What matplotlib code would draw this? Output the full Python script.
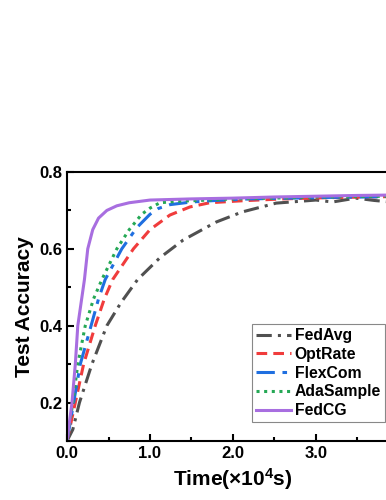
import matplotlib
matplotlib.use("Agg")
import matplotlib.pyplot as plt
from matplotlib.ticker import MultipleLocator

plt.rcParams["font.family"] = ["Liberation Sans", "DejaVu Sans"]
plt.rcParams["font.weight"] = "bold"
plt.rcParams["mathtext.fontset"] = "custom"
plt.rcParams["mathtext.rm"] = "Liberation Sans:bold"
plt.rcParams["mathtext.bf"] = "Liberation Sans:bold"
plt.rcParams["mathtext.default"] = "bf"

# Time in units of 1e4 s, accuracy
fedavg_t = [0.0, 0.07, 0.15, 0.3, 0.48, 0.65, 0.85, 1.12, 1.4, 1.8, 2.11, 2.52, 3.0, 3.2, 3.48, 3.7, 3.9]
fedavg_y = [0.1, 0.13, 0.2, 0.3, 0.4, 0.46, 0.52, 0.577, 0.623, 0.67, 0.696, 0.719, 0.727, 0.722, 0.732, 0.726, 0.722]

optrate_t = [0.0, 0.1, 0.2, 0.34, 0.45, 0.55, 0.8, 1.0, 1.24, 1.48, 1.72, 2.1, 2.6, 3.1, 3.6, 3.9]
optrate_y = [0.1, 0.2, 0.3, 0.4, 0.47, 0.52, 0.6, 0.65, 0.688, 0.709, 0.72, 0.725, 0.73, 0.733, 0.735, 0.736]

flexcom_t = [0.0, 0.08, 0.16, 0.29, 0.38, 0.46, 0.66, 0.84, 1.0, 1.1, 1.24, 1.5, 1.8, 2.2, 2.7, 3.2, 3.6, 3.9]
flexcom_y = [0.1, 0.2, 0.3, 0.4, 0.47, 0.52, 0.6, 0.655, 0.69, 0.705, 0.715, 0.722, 0.726, 0.73, 0.732, 0.734, 0.735, 0.736]

adasample_t = [0.0, 0.07, 0.13, 0.22, 0.32, 0.42, 0.6, 0.75, 0.9, 1.0, 1.12, 1.35, 1.6, 2.0, 2.5, 3.0, 3.5, 3.9]
adasample_y = [0.1, 0.2, 0.3, 0.4, 0.47, 0.52, 0.6, 0.65, 0.69, 0.706, 0.72, 0.724, 0.726, 0.73, 0.732, 0.735, 0.736, 0.737]

fedcg_t = [0.0, 0.03, 0.06, 0.1, 0.13, 0.17, 0.21, 0.25, 0.31, 0.38, 0.48, 0.6, 0.75, 1.0, 1.5, 2.0, 2.5, 3.0, 3.5, 3.9]
fedcg_y = [0.1, 0.15, 0.2, 0.3, 0.4, 0.46, 0.52, 0.6, 0.65, 0.68, 0.7, 0.712, 0.72, 0.727, 0.73, 0.732, 0.735, 0.737, 0.739, 0.74]

fig = plt.figure(figsize=(3.86, 5.0), dpi=100)
ax = fig.add_axes([0.1736, 0.118, 0.86, 0.538])

ax.plot(fedavg_t, fedavg_y, color="#505050", lw=2.2, linestyle=(0, (5, 2, 1, 2)), label="FedAvg")
ax.plot(optrate_t, optrate_y, color="#f03c3c", lw=2.2, linestyle=(0, (3.5, 2)), label="OptRate")
ax.plot(flexcom_t, flexcom_y, color="#1f6fe0", lw=2.2, linestyle=(0, (6, 2.5, 1.5, 2.5)), label="FlexCom")
ax.plot(adasample_t, adasample_y, color="#25a855", lw=2.2, linestyle=(0, (1, 1.5)), label="AdaSample")
ax.plot(fedcg_t, fedcg_y, color="#a86ee0", lw=2.2, label="FedCG")

ax.set_xlim(0, 4.0)
ax.set_ylim(0.1, 0.8)
ax.xaxis.set_minor_locator(MultipleLocator(0.5))
ax.yaxis.set_minor_locator(MultipleLocator(0.1))
ax.set_xticks([0, 1, 2, 3])
ax.set_xticklabels(["0.0", "1.0", "2.0", "3.0"])
ax.set_yticks([0.2, 0.4, 0.6, 0.8])
ax.set_yticklabels(["0.2", "0.4", "0.6", "0.8"])
ax.tick_params(which="both", direction="in", width=1.5, labelsize=12)
ax.tick_params(which="major", length=5)
ax.tick_params(which="minor", length=3)
for s in ax.spines.values():
    s.set_linewidth(1.5)

ax.set_xlabel("Time(×10$^4$s)", fontsize=15, fontweight="bold")
ax.set_ylabel("Test Accuracy", fontsize=15, fontweight="bold")

leg = ax.legend(loc="lower right", bbox_to_anchor=(0.958, 0.07), fontsize=11.3, handlelength=2.2,
                handletextpad=0.25, labelspacing=0.24, borderpad=0.25, borderaxespad=0,
                fancybox=False, framealpha=1)
leg.get_frame().set_edgecolor("#888888")
leg.get_frame().set_linewidth(0.8)

fig.savefig("out.png", dpi=100)
